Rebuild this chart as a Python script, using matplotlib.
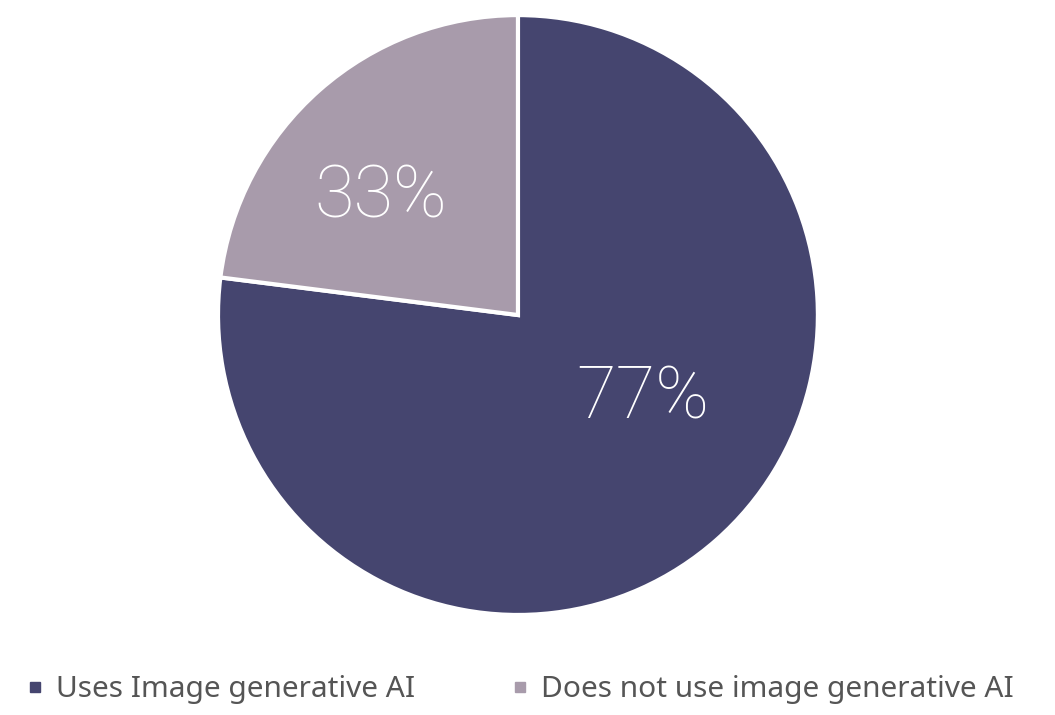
import matplotlib
matplotlib.use("Agg")
import matplotlib.pyplot as plt
from matplotlib.lines import Line2D
import numpy as np

categories = ["Uses Image generative AI", "Does not use image generative AI"]
shares = [77, 23]          # slice sizes as drawn
labels = ["77%", "33%"]    # labels as printed in the source
colors = ["#45456f", "#a89bab"]

fig = plt.figure(figsize=(10.55, 7.15), dpi=100)
ax = fig.add_axes([0.2066, 0.1399, 0.5687, 0.839])

wedges, _ = ax.pie(shares, colors=colors, startangle=90, counterclock=False,
                   wedgeprops=dict(edgecolor="white", linewidth=3))
ax.set_aspect("equal")
ax.set_xlim(-1, 1)
ax.set_ylim(-1, 1)

# label spots (radius, angle in degrees) inside each wedge
label_pos = [(0.5, -34), (0.6, 139.5)]
for lab, (r, a) in zip(labels, label_pos):
    ang = np.deg2rad(a)
    ax.text(r * np.cos(ang), r * np.sin(ang), lab, ha="center", va="center",
            color="white", fontsize=52, family=["Roboto", "DejaVu Sans"],
            fontweight="light")

handles = [Line2D([], [], marker="s", linestyle="", markersize=7, color=c) for c in colors]
fig.legend(handles, categories, loc="center", bbox_to_anchor=(0.49, 0.035), ncol=2,
           frameon=False, columnspacing=3.0, handlelength=1.0, handletextpad=0.2,
           labelcolor="#555555", prop=dict(family=["Noto Sans", "DejaVu Sans"], size=21.5))

fig.savefig("out.png", dpi=100, facecolor="white")
